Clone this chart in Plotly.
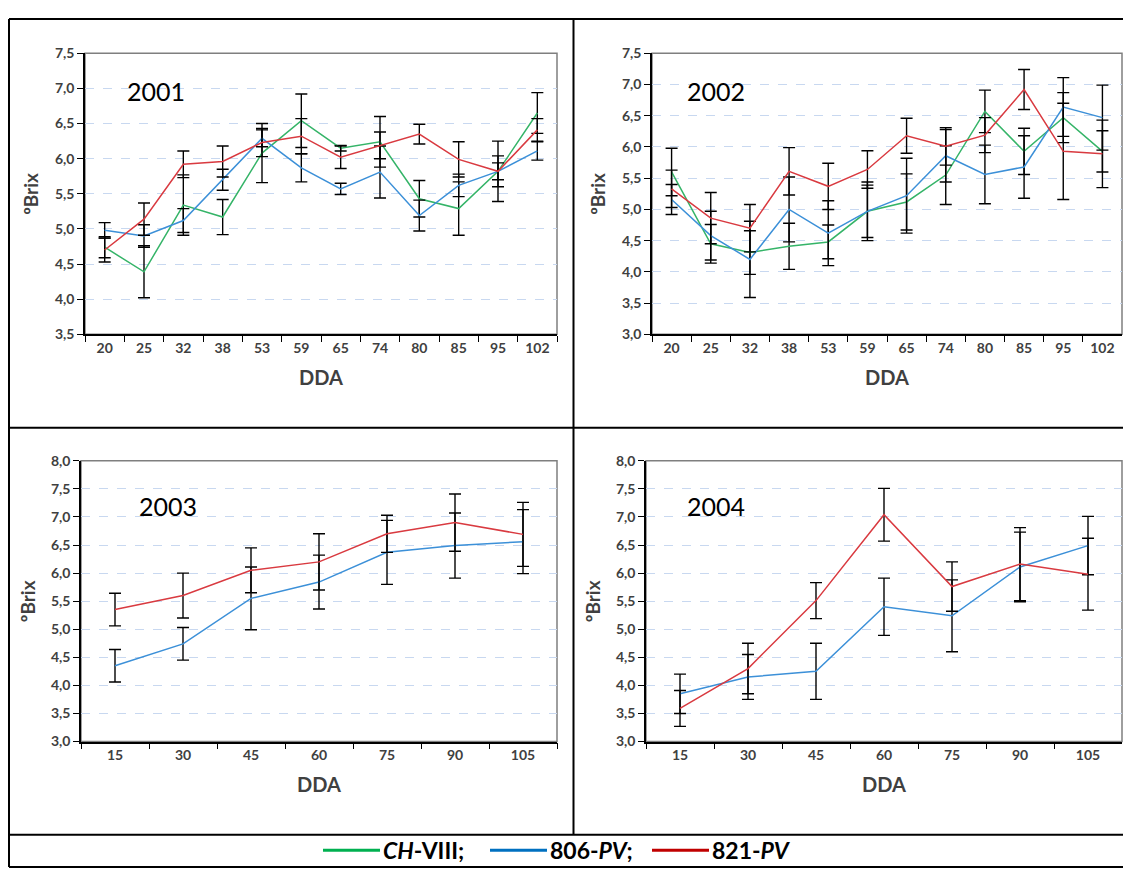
import plotly.graph_objects as go

W, H = 1131, 876
OFF = 8  # page body margin offset
FW, FH = W - OFF, H - OFF

# ---------------- data ----------------
dda_0102 = ["20", "25", "32", "38", "53", "59", "65", "74", "80", "85", "95", "102"]
dda_0304 = ["15", "30", "45", "60", "75", "90", "105"]

ch_2001 = [4.74, 4.39, 5.34, 5.17, 6.08, 6.54, 6.15, 6.24, 5.43, 5.29, 5.82, 6.65]
ch_2001_err = [0.15, 0.37, 0.43, 0.25, 0.42, 0.38, 0.04, 0.36, 0.26, 0.38, 0.43, 0.29]
pv806_2001 = [4.98, 4.90, 5.12, 5.70, 6.29, 5.87, 5.57, 5.81, 5.19, 5.62, 5.82, 6.11]
pv806_2001_err = [0.11, 0.16, 0.17, 0.15, 0.12, 0.20, 0.08, 0.37, 0.22, 0.16, 0.22, 0.13]
pv821_2001 = [4.70, 5.14, 5.92, 5.96, 6.23, 6.32, 6.02, 6.19, 6.35, 5.99, 5.82, 6.41]
pv821_2001_err = [0.17, 0.23, 0.19, 0.22, 0.20, 0.25, 0.16, 0.19, 0.14, 0.25, 0.12, 0.16]

ch_2002 = [5.60, 4.45, 4.31, 4.41, 4.48, 4.97, 5.12, 5.55, 6.57, 5.93, 6.47, 5.93]
ch_2002_err = [0.38, 0.31, 0.35, 0.37, 0.27, 0.47, 0.45, 0.47, 0.34, 0.37, 0.40, 0.33]
pv806_2002 = [5.16, 4.58, 4.20, 5.00, 4.62, 4.97, 5.22, 5.86, 5.56, 5.68, 6.64, 6.47]
pv806_2002_err = [0.24, 0.39, 0.61, 0.52, 0.52, 0.42, 0.60, 0.42, 0.47, 0.50, 0.47, 0.52]
pv821_2002 = [5.33, 4.86, 4.70, 5.61, 5.37, 5.64, 6.18, 6.01, 6.19, 6.92, 5.93, 5.89]
pv821_2002_err = [0.30, 0.41, 0.38, 0.38, 0.37, 0.30, 0.28, 0.30, 0.28, 0.32, 0.77, 0.54]

pv806_2003 = [4.35, 4.74, 5.55, 5.84, 6.37, 6.49, 6.56]
pv806_2003_err = [0.29, 0.29, 0.56, 0.48, 0.57, 0.58, 0.57]
pv821_2003 = [5.35, 5.60, 6.05, 6.20, 6.70, 6.90, 6.69]
pv821_2003_err = [0.29, 0.40, 0.40, 0.50, 0.33, 0.51, 0.57]

pv806_2004 = [3.85, 4.15, 4.25, 5.40, 5.24, 6.11, 6.49]
pv806_2004_err = [0.35, 0.40, 0.50, 0.51, 0.64, 0.62, 0.52]
pv821_2004 = [3.59, 4.30, 5.51, 7.04, 5.76, 6.16, 5.98]
pv821_2004_err = [0.32, 0.45, 0.32, 0.47, 0.44, 0.65, 0.64]

years = ["2001", "2002", "2003", "2004"]
legend_names = ["<i>CH</i>-VIII;", "806-<i>PV</i>;", "821-<i>PV</i>"]

# ---------------- styling ----------------
C_GREEN, C_BLUE, C_RED = "#35B468", "#3C90D8", "#D93A40"
L_GREEN, L_BLUE, L_RED = "#00B050", "#0070C0", "#C00000"
FONT = "Lato"
TXT = "#404040"

def px_x(p):
    return (p - OFF) / FW

def px_y(p):
    return 1 - (p - OFF) / FH

# plot areas in reference pixels: (left, right, top, bottom)
areas = [
    (85, 557, 45, 331.7),
    (652, 1122, 45, 331.7),
    (81, 557, 460.7, 747),
    (646, 1122, 460.7, 747),
]

fig = go.Figure()

panels = [
    (dda_0102, [(ch_2001, ch_2001_err, C_GREEN), (pv806_2001, pv806_2001_err, C_BLUE), (pv821_2001, pv821_2001_err, C_RED)], (3.5, 7.5)),
    (dda_0102, [(ch_2002, ch_2002_err, C_GREEN), (pv806_2002, pv806_2002_err, C_BLUE), (pv821_2002, pv821_2002_err, C_RED)], (3.0, 7.5)),
    (dda_0304, [(pv806_2003, pv806_2003_err, C_BLUE), (pv821_2003, pv821_2003_err, C_RED)], (3.0, 8.0)),
    (dda_0304, [(pv806_2004, pv806_2004_err, C_BLUE), (pv821_2004, pv821_2004_err, C_RED)], (3.0, 8.0)),
]

year_pos = [(0.085, 0.867), (0.070, 0.867), (0.118, 0.838), (0.082, 0.838)]

for i, (cats, series, yr) in enumerate(panels):
    n = i + 1
    xa = "x" if n == 1 else f"x{n}"
    ya = "y" if n == 1 else f"y{n}"
    for vals, errs, col in series:
        fig.add_trace(go.Scatter(
            x=cats, y=vals, mode="lines",
            line=dict(color=col, width=1.5),
            error_y=dict(type="data", array=errs, visible=True, color="black", thickness=1.4, width=6),
            xaxis=xa, yaxis=ya, showlegend=False, hoverinfo="skip",
        ))
    l, r, t, b = areas[i]
    xkey = "xaxis" if n == 1 else f"xaxis{n}"
    ykey = "yaxis" if n == 1 else f"yaxis{n}"
    fig.update_layout(**{
        xkey: dict(
            domain=[px_x(l), px_x(r)], anchor=ya, type="category",
            tickson="boundaries", ticks="outside", ticklen=6, tickwidth=1.2, tickcolor="black",
            showline=True, linecolor="black", linewidth=1.5, showgrid=False,
            tickfont=dict(family=FONT, size=14, color=TXT, weight="bold"),
            range=[-0.5, len(cats) - 0.5], fixedrange=True,
        ),
        ykey: dict(
            domain=[px_y(b), px_y(t)], anchor=xa, range=list(yr), dtick=0.5, tick0=0,
            tickformat=".1f", ticks="outside", ticklen=6, tickwidth=1.2, tickcolor="black",
            showline=True, linecolor="black", linewidth=1.5,
            showgrid=True, gridcolor="#C8D8F0", griddash="dash", gridwidth=1,
            zeroline=False, tickfont=dict(family=FONT, size=14, color=TXT, weight="bold"),
            fixedrange=True,
        ),
    })
    # plot-area frame
    fig.add_shape(type="rect", xref=f"{xa} domain", yref=f"{ya} domain", x0=0, x1=1, y0=0, y1=1,
                  line=dict(color="#7F7F7F", width=1.5), layer="below")
    # year label
    fx, fy = year_pos[i]
    fig.add_annotation(text=years[i], xref=f"{xa} domain", yref=f"{ya} domain", x=fx, y=fy,
                       xanchor="left", yanchor="middle", showarrow=False,
                       font=dict(family=FONT, size=25, color="black"))
    # axis titles
    fig.add_annotation(text="DDA", xref="paper", yref="paper", x=px_x((l + r) / 2), y=px_y(b + 43),
                       xanchor="center", yanchor="middle", showarrow=False,
                       font=dict(family=FONT, size=20, color=TXT, weight="bold"))
    fig.add_annotation(text="ºBrix", xref="paper", yref="paper", x=px_x(l - 54), y=px_y((t + b) / 2),
                       xanchor="center", yanchor="middle", showarrow=False, textangle=-90,
                       font=dict(family=FONT, size=19, color=TXT, weight="bold"))

# table borders
border = dict(color="black", width=2)
for (x0, y0, x1, y1) in [(9, 10, 1129, 10), (9, 427, 1129, 427), (9, 842, 1129, 842), (9, 875, 1129, 875),
                         (9, 10, 9, 875), (1129, 10, 1129, 875), (573.5, 10, 573.5, 842)]:
    fig.add_shape(type="line", xref="paper", yref="paper",
                  x0=px_x(x0), x1=px_x(x1), y0=px_y(y0), y1=px_y(y1), line=border)

# legend row
leg = [(323, 380, L_GREEN), (490, 547, L_BLUE), (652, 709, L_RED)]
for (a, bx, col), name in zip(leg, legend_names):
    fig.add_shape(type="line", xref="paper", yref="paper", x0=px_x(a), x1=px_x(bx),
                  y0=px_y(858), y1=px_y(858), line=dict(color=col, width=3))
    fig.add_annotation(text=f"<b>{name}</b>", xref="paper", yref="paper", x=px_x(bx + 1), y=px_y(858),
                       xanchor="left", yanchor="middle", showarrow=False,
                       font=dict(family=FONT, size=23, color="black"))

fig.update_layout(
    width=FW, height=FH, autosize=False,
    margin=dict(l=0, r=0, t=0, b=0),
    paper_bgcolor="white", plot_bgcolor="white",
    separators=",.", showlegend=False,
)

fig.write_html("out.html")
